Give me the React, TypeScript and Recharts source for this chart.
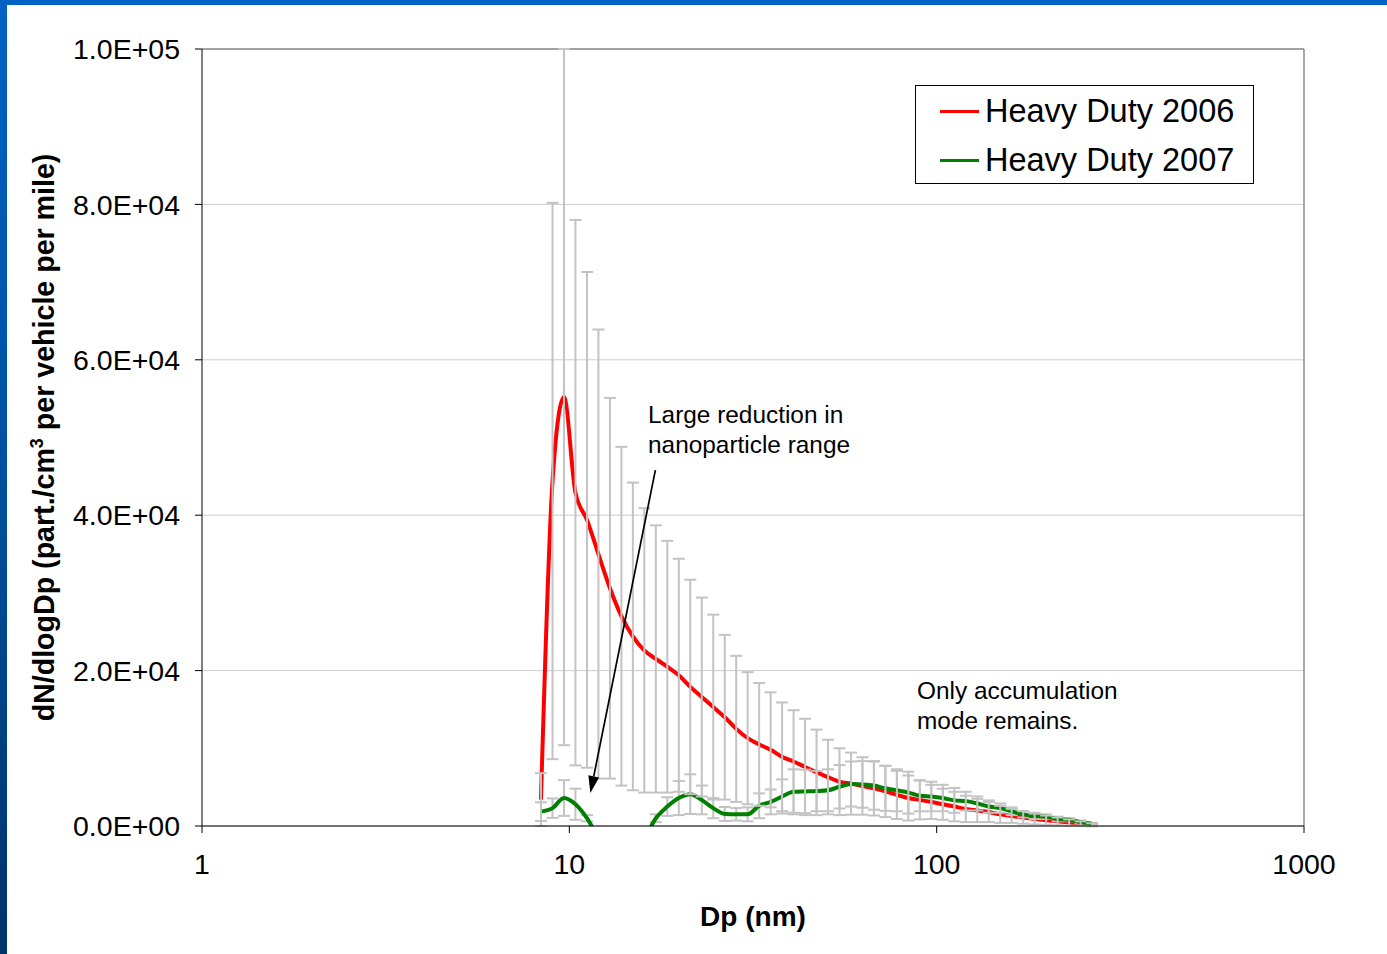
import React from 'react';
import {
  ComposedChart,
  Line,
  XAxis,
  YAxis,
  CartesianGrid,
  ErrorBar,
  ReferenceLine,
  Legend,
  Label,
} from 'recharts';

// particle diameter (nm), SMPS channels
const dp = [
  8.37, 9.0, 9.67, 10.39, 11.17, 12.0, 12.9, 13.86, 14.89, 16.0, 17.2, 18.48, 19.86, 21.34, 22.94, 24.65,
  26.49, 28.46, 30.58, 32.87, 35.32, 37.95, 40.78, 43.83, 47.1, 50.61, 54.38, 58.44, 62.8, 67.48, 72.52,
  77.93, 83.74, 89.98, 96.69, 103.9, 111.7, 120.0, 129.0, 138.6, 148.9, 160.0, 172.0, 184.8, 198.6, 213.4,
  229.4, 246.5, 264.9,
];

const hd2006 = [
  3400, 44400, 55200, 42900, 39400, 35000, 30600, 27000, 24400, 22600, 21500, 20500, 19400, 17900, 16600, 15300,
  14000, 12500, 11300, 10500, 9800, 8900, 8300, 7600, 6900, 6300, 5700, 5450, 5150, 4850, 4450,
  4000, 3600, 3350, 3100, 2800, 2500, 2200, 2000, 1800, 1500, 1300, 1100, 900, 750, 600,
  450, 300, 150,
];

const hd2006Err = [
  3400, 35800, 44800, 35100, 31900, 28900, 24500, 21800, 19800, 18300, 17200, 16200, 15000, 13800, 12800, 11900,
  10600, 9400, 8500, 7900, 7400, 7000, 6600, 6200, 5500, 4800, 4300, 4000, 3700, 3500, 3300,
  3100, 2900, 2500, 2200, 2000, 1900, 1700, 1500, 1300, 1100, 900, 800, 700, 600, 500,
  400, 300, 200,
];

const hd2007 = [
  1850, 2300, 3600, 2800, 1000, -1500, -3000, -3500, -3000, -1600, 1000, 2500, 3600, 4100, 3350, 2300,
  1550, 1500, 1500, 2600, 3100, 3800, 4400, 4450, 4500, 4600, 5050, 5400, 5350, 5200, 4850,
  4600, 4300, 3900, 3800, 3600, 3300, 3200, 2900, 2500, 2300, 1900, 1500, 1300, 1200, 900,
  800, 500, 300,
];

const hd2007Err = [
  1200, 1250, 2300, 2000, 400, 0, 0, 0, 0, 0, 500, 1200, 2200, 2550, 1850, 1300,
  900, 800, 900, 1600, 1600, 2200, 2900, 2800, 2600, 2700, 2800, 2900, 3000, 3100, 2900,
  2700, 2700, 2000, 1900, 1700, 1600, 1200, 900, 800, 600, 500, 400, 400, 300, 300,
  200, 200, 100,
];

const xTicks = [1, 10, 100, 1000];
const yTicks = [0, 20000, 40000, 60000, 80000, 100000];
const seriesNames = ['Heavy Duty 2006', 'Heavy Duty 2007'];
const seriesColors = ['#ff0000', '#008000'];

const data = dp.map((d, i) => ({
  dp: d,
  hd2006: hd2006[i],
  hd2006Err: hd2006Err[i],
  hd2007: hd2007[i],
  hd2007Err: hd2007Err[i],
}));

const FONT = '"Liberation Sans", Arial, sans-serif';
const BAR_GREY = '#c3c3c3';

const sci = (v: number) => {
  const [m, e] = v.toExponential(1).split('e');
  const n = Math.abs(parseInt(e, 10));
  return `${m}E${e[0] === '-' ? '-' : '+'}${n < 10 ? '0' + n : n}`;
};

const Arrow = (props: any) => {
  const { x1, y1, x2, y2 } = props;
  const ang = Math.atan2(y2 - y1, x2 - x1);
  const len = 17;
  const half = 5.5;
  const bx = x2 - len * Math.cos(ang);
  const by = y2 - len * Math.sin(ang);
  const px = -Math.sin(ang) * half;
  const py = Math.cos(ang) * half;
  return (
    <g>
      <line x1={x1} y1={y1} x2={bx} y2={by} stroke="#000" strokeWidth={1.7} />
      <polygon points={`${x2},${y2} ${bx + px},${by + py} ${bx - px},${by - py}`} fill="#000" />
    </g>
  );
};

const renderLegend = () => (
  <div
    style={{
      width: 337,
      height: 97,
      border: '1px solid #000',
      background: '#fff',
      fontFamily: FONT,
      fontSize: 32.5,
      color: '#000',
      boxSizing: 'content-box',
    }}
  >
    {seriesNames.map((name, i) => (
      <div key={name} style={{ display: 'flex', alignItems: 'center', height: 50, marginTop: i === 0 ? 0 : -1 }}>
        <div style={{ width: 39, height: 3, background: seriesColors[i], marginLeft: 24, marginRight: 6 }} />
        <span>{name}</span>
      </div>
    ))}
  </div>
);

const YTitle = (props: any) => {
  const { viewBox } = props;
  const cy = viewBox.y + viewBox.height / 2;
  return (
    <text
      x={0}
      y={0}
      transform={`translate(54, ${cy}) rotate(-90)`}
      textAnchor="middle"
      fontFamily={FONT}
      fontWeight="bold"
      fontSize={28.6}
      fill="#000"
    >
      <tspan>dN/dlogDp (part./cm</tspan>
      <tspan fontSize={18} dy={-11}>3</tspan>
      <tspan dy={11}> per vehicle per mile)</tspan>
    </text>
  );
};

const XTitle = (props: any) => {
  const { viewBox } = props;
  return (
    <text
      x={viewBox.x + viewBox.width / 2}
      y={926}
      textAnchor="middle"
      fontFamily={FONT}
      fontWeight="bold"
      fontSize={28}
      fill="#000"
    >
      Dp (nm)
    </text>
  );
};

const noteStyle: React.CSSProperties = {
  position: 'absolute',
  fontFamily: FONT,
  fontSize: 24.4,
  lineHeight: '30px',
  color: '#000',
  whiteSpace: 'nowrap',
};

export default function App() {
  return (
    <div style={{ position: 'absolute', left: 0, top: 0, width: 1387, height: 954, background: '#fff', overflow: 'hidden' }}>
      <div style={{ position: 'absolute', left: 0, top: 0, width: 1387, height: 5, background: '#0062c4' }} />
      <div
        style={{
          position: 'absolute',
          left: 0,
          top: 0,
          width: 7,
          height: 954,
          background: 'linear-gradient(#0062c4, #0050a0 50%, #003468)',
        }}
      />
      <ComposedChart
        width={1387}
        height={954}
        data={data}
        margin={{ top: 49, right: 83, bottom: 68, left: 0 }}
        style={{ position: 'absolute', left: 0, top: 0 }}
      >
        <CartesianGrid vertical={false} stroke="#cccccc" strokeWidth={1} />
        <XAxis
          dataKey="dp"
          type="number"
          scale="log"
          domain={[1, 1000]}
          ticks={xTicks}
          allowDataOverflow
          height={60}
          tickSize={7}
          tickMargin={21}
          stroke="#000"
          tick={{ fill: '#000', fontSize: 28.5, fontFamily: FONT }}
        >
          <Label content={<XTitle />} />
        </XAxis>
        <YAxis
          type="number"
          domain={[0, 100000]}
          ticks={yTicks}
          allowDataOverflow
          width={202}
          tickSize={7}
          tickMargin={15}
          stroke="#000"
          tickFormatter={sci}
          tick={{ fill: '#000', fontSize: 28.5, fontFamily: FONT }}
        >
          <Label content={<YTitle />} />
        </YAxis>
        <ReferenceLine y={100000} stroke="#8c8c8c" strokeWidth={1.5} />
        <ReferenceLine x={1000} stroke="#8c8c8c" strokeWidth={1.5} />
        <Line
          type="monotone"
          dataKey="hd2006"
          name={seriesNames[0]}
          stroke={seriesColors[0]}
          strokeWidth={4}
          dot={false}
          isAnimationActive={false}
        />
        <Line
          type="monotone"
          dataKey="hd2007"
          name={seriesNames[1]}
          stroke={seriesColors[1]}
          strokeWidth={4}
          dot={false}
          isAnimationActive={false}
        >
          <ErrorBar dataKey="hd2007Err" direction="y" width={6} stroke={BAR_GREY} strokeWidth={2} isAnimationActive={false} />
        </Line>
        {/* carrier for the 2006 error bars so they sit on top of both curves */}
        <Line
          type="monotone"
          dataKey="hd2006"
          stroke="transparent"
          strokeWidth={0}
          dot={false}
          legendType="none"
          isAnimationActive={false}
        >
          <ErrorBar dataKey="hd2006Err" direction="y" width={6} stroke={BAR_GREY} strokeWidth={2} isAnimationActive={false} />
        </Line>
        <ReferenceLine
          segment={[
            { x: 17.15, y: 45800 },
            { x: 11.41, y: 4250 },
          ]}
          shape={Arrow}
        />
        <Legend
          layout="vertical"
          verticalAlign="middle"
          align="center"
          content={renderLegend}
          wrapperStyle={{ position: 'absolute', left: 915, top: 85, width: 339, height: 99 }}
        />
      </ComposedChart>
      <div style={{ ...noteStyle, left: 648, top: 400 }}>
        Large reduction in
        <br />
        nanoparticle range
      </div>
      <div style={{ ...noteStyle, left: 917, top: 676 }}>
        Only accumulation
        <br />
        mode remains.
      </div>
    </div>
  );
}
